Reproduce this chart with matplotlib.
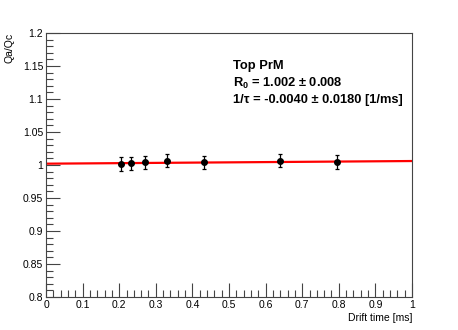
import numpy as np
import matplotlib
matplotlib.use('Agg')
import matplotlib.pyplot as plt
from matplotlib.ticker import MultipleLocator

plt.rcParams['font.family'] = ['Liberation Sans', 'DejaVu Sans']
plt.rcParams['mathtext.fontset'] = 'custom'
plt.rcParams['mathtext.bf'] = 'Liberation Sans:bold'
plt.rcParams['mathtext.rm'] = 'Liberation Sans'

# data
drift_time = [0.204, 0.231, 0.270, 0.330, 0.433, 0.640, 0.796]
qa_qc = [1.0015, 1.0024, 1.0040, 1.0065, 1.0040, 1.0065, 1.0045]
qa_qc_err = [0.010, 0.010, 0.010, 0.010, 0.010, 0.010, 0.010]

R0 = 1.002
inv_tau = -0.0040

fig = plt.figure(figsize=(4.58, 3.30), dpi=100)
ax = fig.add_axes([46/458, 1-297/330, 366/458, 264/330])

t = np.linspace(0, 1, 200)
ax.plot(t, R0*np.exp(-inv_tau*t), color='red', lw=1.6, zorder=2)
ax.errorbar(drift_time, qa_qc, yerr=qa_qc_err, fmt='o', color='black',
            ms=4, elinewidth=0.9, capsize=1.5, capthick=0.9, zorder=3)

ax.set_xlim(0, 1)
ax.set_ylim(0.8, 1.2)
ax.xaxis.set_major_locator(MultipleLocator(0.1))
ax.xaxis.set_minor_locator(MultipleLocator(0.02))
ax.yaxis.set_major_locator(MultipleLocator(0.05))
ax.yaxis.set_minor_locator(MultipleLocator(0.01))

def fmt(v, pos):
    return ('%.2f' % v).rstrip('0').rstrip('.')
ax.xaxis.set_major_formatter(plt.FuncFormatter(fmt))
ax.yaxis.set_major_formatter(plt.FuncFormatter(fmt))

ax.tick_params(which='both', direction='in', top=False, right=False,
               labelsize=7.5, color='#444444', width=0.8)
ax.tick_params(which='major', length=10, pad=2)
ax.tick_params(which='minor', length=5)
for sp in ax.spines.values():
    sp.set_color('#444444')
    sp.set_linewidth(0.8)

ax.set_xlabel('Drift time [ms]', fontsize=7.5, loc='right', labelpad=2)
ax.set_ylabel('Qa/Qc', fontsize=7.5, loc='top', labelpad=6)

kw = dict(transform=ax.transAxes, fontsize=9.3, fontweight='bold', va='center')
ax.text(0.51, 0.875, 'Top PrM', **kw)
ax.text(0.51, 0.81, r'R$_\mathbf{0}$ = 1.002 ± 0.008', **kw)
ax.text(0.51, 0.747, '1/τ = -0.0040 ± 0.0180 [1/ms]', **kw)

fig.savefig('out.png', dpi=100)
